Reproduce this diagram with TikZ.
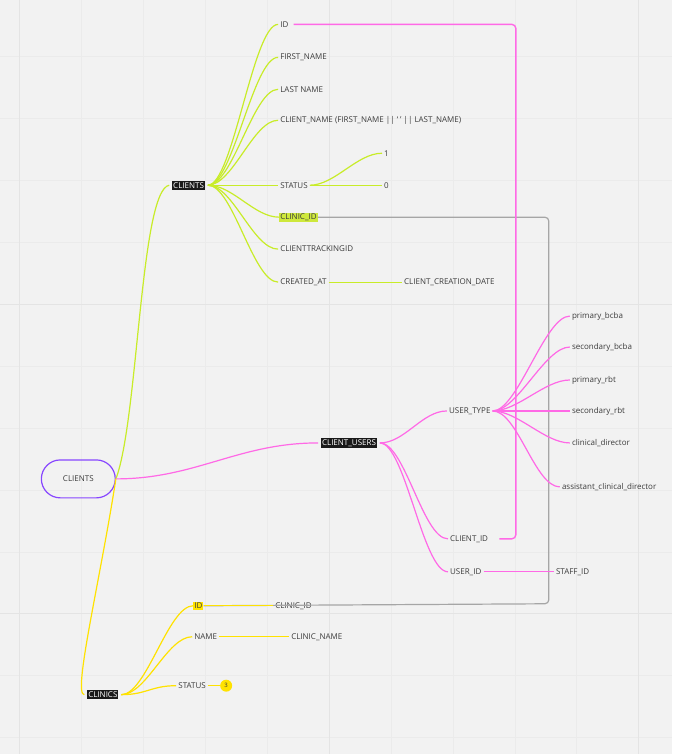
\documentclass[tikz,border=0pt]{standalone}
\usepackage{fontspec}
\setmainfont{Open Sans}
\usetikzlibrary{positioning}
\definecolor{limeline}{RGB}{200,236,40}
\definecolor{limemark}{RGB}{206,232,60}
\definecolor{pinkline}{RGB}{255,105,230}
\definecolor{yelline}{RGB}{255,226,0}
\definecolor{purpline}{RGB}{135,70,255}
\definecolor{bgcol}{RGB}{242,242,242}
\definecolor{gridcol}{RGB}{235,235,235}
\definecolor{txtcol}{RGB}{60,60,60}
\tikzset{
	field/.style={anchor=west, inner xsep=2pt, inner ysep=1pt, text=txtcol, font=\fontsize{8}{9.5}\selectfont},
	tablebox/.style={anchor=west, fill=black!90, text=white, inner xsep=1pt, inner ysep=1.5pt, outer sep=3pt, font=\fontsize{8}{9.5}\selectfont},
	limebranch/.style={draw=limeline, line width=1.2pt},
	pinkbranch/.style={draw=pinkline, line width=1.2pt},
	yelbranch/.style={draw=yelline, line width=1.2pt},
}

\begin{document}
\begin{tikzpicture}[x=1pt,y=-1pt]
	\fill[bgcol] (0,0) rectangle (672,754);
	%\draw [help lines] (0,0) grid (672,754);
	\foreach \x in {19,81,...,672} \draw[gridcol, line width=0.6pt] (\x,0) -- (\x,754);
	\foreach \y in {56,118,...,754} \draw[gridcol, line width=0.6pt] (0,\y) -- (672,\y);
	\draw[gridcol!97!black, line width=0.8pt] (19,0) -- (19,754) (329,0) -- (329,754) (639,0) -- (639,754) (0,304) -- (672,304) (0,614) -- (672,614);

	% root
	\node[draw=purpline, line width=1.2pt, rounded corners=19pt, minimum width=74pt, minimum height=38pt, text=txtcol, font=\fontsize{8}{9.5}\selectfont] (root) at (78,479) {CLIENTS};

	% clients table
	\node[tablebox] (clients) at (169,185) {CLIENTS};
	\node[field] (cid) at (278,24) {ID};
	\node[field] (cfirst) at (278,57) {FIRST\_NAME};
	\node[field] (clast) at (278,89) {LAST NAME};
	\node[field] (cname) at (278,120) {CLIENT\_NAME (FIRST\_NAME || ` ' || LAST\_NAME)};
	\node[field] (cstatus) at (278,185) {STATUS};
	\node[field, fill=limemark, inner xsep=1pt] (cclinic) at (279,217) {CLINIC\_ID};
	\node[field] (ctrack) at (278,249) {CLIENTTRACKINGID};
	\node[field] (ccreated) at (278,282) {CREATED\_AT};
	\node[field] (sone) at (382,153) {1};
	\node[field] (szero) at (382,185) {0};
	\node[field] (cdate) at (402,282) {CLIENT\_CREATION\_DATE};

	% client_users table
	\node[tablebox] (users) at (318,443) {CLIENT\_USERS};
	\node[field] (utype) at (447,411) {USER\_TYPE};
	\node[field] (uclient) at (448,539) {CLIENT\_ID};
	\node[field] (uuser) at (448,572) {USER\_ID};
	\node[field] (tpbcba) at (570,316) {primary\_bcba};
	\node[field] (tsbcba) at (570,347) {secondary\_bcba};
	\node[field] (tprbt) at (570,380) {primary\_rbt};
	\node[field] (tsrbt) at (570,411) {secondary\_rbt};
	\node[field] (tcdir) at (570,443) {clinical\_director};
	\node[field] (tacdir) at (560,487) {assistant\_clinical\_director};
	\node[field] (ustaff) at (554,572) {STAFF\_ID};

	% clinics table
	\node[tablebox] (clinics) at (84,695) {CLINICS};
	\node[field, fill=yelline, inner xsep=1pt] (lid) at (193,606) {ID};
	\node[field] (lname) at (192,637) {NAME};
	\node[field] (lstatus) at (176,686) {STATUS};
	\node[field] (lclinic) at (273,606) {CLINIC\_ID};
	\node[field] (lcname) at (289,637) {CLINIC\_NAME};
	\node[circle, fill=yelline, minimum size=12pt, inner sep=0pt, text=txtcol, font=\fontsize{6}{7}\selectfont] (badge) at (226,686) {3};

	% links between tables
	\coordinate (gturn) at (549,604);
	\draw[black!35, line width=1.2pt, rounded corners=4pt] (cclinic.east) -| (gturn) -- (lid.east);
	\coordinate (pturn) at (516,539);
	\draw[pinkline, line width=1.4pt, rounded corners=4pt, shorten <=3pt, shorten >=9pt] (cid.east) -| (pturn) -- (uclient.east);

	% root branches
	\draw[limebranch] (root.east) .. controls (138,420) and (140,190) .. (clients.west);
	\draw[pinkbranch] (root.east) .. controls +(80,0) and +(-80,0) .. (users.west);
	\draw[yelbranch] (root.east) .. controls (100,580) and (72,695) .. (clinics.west);

	% clients fields
	\foreach \n in {cid,cfirst,clast,cname,cstatus,cclinic,ctrack,ccreated}
		\draw[limebranch] (clients.east) .. controls +(25,0) and +(-25,0) .. (\n.west);
	\foreach \n in {sone,szero}
		\draw[limebranch] (cstatus.east) .. controls +(25,0) and +(-25,0) .. (\n.west);
	\draw[limebranch] (ccreated.east) -- (cdate.west);

	% client_users fields
	\foreach \n in {utype,uclient,uuser}
		\draw[pinkbranch] (users.east) .. controls +(25,0) and +(-25,0) .. (\n.west);
	\foreach \n in {tpbcba,tsbcba,tprbt,tsrbt,tcdir,tacdir}
		\draw[pinkbranch] (utype.east) .. controls +(25,0) and +(-25,0) .. (\n.west);
	\draw[pinkbranch] (uuser.east) -- (ustaff.west);

	% clinics fields
	\foreach \n in {lid,lname,lstatus}
		\draw[yelbranch] (clinics.east) .. controls +(25,0) and +(-25,0) .. (\n.west);
	\draw[yelbranch] (lid.east) -- (lclinic.west);
	\draw[yelbranch] (lname.east) -- (lcname.west);
	\draw[yelbranch] (lstatus.east) -- (badge.west);
\end{tikzpicture}
\end{document}
